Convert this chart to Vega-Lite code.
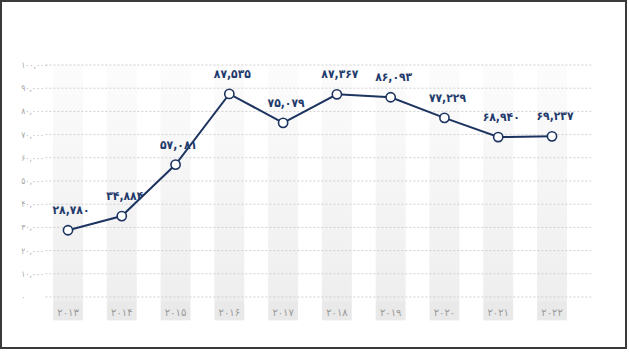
{
  "$schema": "https://vega.github.io/schema/vega-lite/v6.json",
  "width": 625,
  "height": 347,
  "autosize": {"type": "none"},
  "padding": {"left": 1, "top": 1, "right": 3, "bottom": 9},
  "background": "#ffffff",
  "config": {
    "view": {"stroke": "#3a3a3a", "strokeWidth": 2},
    "font": "DejaVu Sans"
  },
  "datasets": {
    "main": [
      {"year": 2013, "yearLabel": "۲۰۱۳", "value": 28780, "label": "۲۸,۷۸۰"},
      {"year": 2014, "yearLabel": "۲۰۱۴", "value": 34884, "label": "۳۴,۸۸۴"},
      {"year": 2015, "yearLabel": "۲۰۱۵", "value": 57081, "label": "۵۷,۰۸۱"},
      {"year": 2016, "yearLabel": "۲۰۱۶", "value": 87535, "label": "۸۷,۵۳۵"},
      {"year": 2017, "yearLabel": "۲۰۱۷", "value": 75079, "label": "۷۵,۰۷۹"},
      {"year": 2018, "yearLabel": "۲۰۱۸", "value": 87367, "label": "۸۷,۳۶۷"},
      {"year": 2019, "yearLabel": "۲۰۱۹", "value": 86093, "label": "۸۶,۰۹۳"},
      {"year": 2020, "yearLabel": "۲۰۲۰", "value": 77229, "label": "۷۷,۲۲۹"},
      {"year": 2021, "yearLabel": "۲۰۲۱", "value": 68940, "label": "۶۸,۹۴۰"},
      {"year": 2022, "yearLabel": "۲۰۲۲", "value": 69237, "label": "۶۹,۲۳۷"}
    ],
    "grid": [
      {"v": 0, "label": "۰"},
      {"v": 10000, "label": "۱۰,۰۰۰"},
      {"v": 20000, "label": "۲۰,۰۰۰"},
      {"v": 30000, "label": "۳۰,۰۰۰"},
      {"v": 40000, "label": "۴۰,۰۰۰"},
      {"v": 50000, "label": "۵۰,۰۰۰"},
      {"v": 60000, "label": "۶۰,۰۰۰"},
      {"v": 70000, "label": "۷۰,۰۰۰"},
      {"v": 80000, "label": "۸۰,۰۰۰"},
      {"v": 90000, "label": "۹۰,۰۰۰"},
      {"v": 100000, "label": "۱۰۰,۰۰۰"}
    ]
  },
  "layer": [
    {
      "data": {"name": "main"},
      "mark": {
        "type": "bar",
        "width": 30,
        "fill": {
          "gradient": "linear",
          "x1": 0, "y1": 0, "x2": 0, "y2": 1,
          "stops": [
            {"offset": 0, "color": "#fcfcfc"},
            {"offset": 1, "color": "#ededed"}
          ]
        }
      },
      "encoding": {
        "x": {"field": "year", "type": "quantitative", "scale": {"domain": [2013, 2022], "range": [62, 556], "nice": false, "zero": false}, "axis": null},
        "y": {"datum": 100000, "type": "quantitative",
          "scale": {"domain": [0, 100000], "range": [296, 64], "nice": false, "zero": false},
          "axis": null
        },
        "y2": {"datum": -10000}
      }
    },
    {
      "data": {"name": "main"},
      "mark": {"type": "bar", "width": 29, "fill": "#e9e9e9"},
      "encoding": {
        "x": {"field": "year", "type": "quantitative", "axis": null},
        "y": {"datum": -1800, "type": "quantitative", "axis": null},
        "y2": {"datum": -10000}
      }
    },
    {
      "data": {"name": "grid"},
      "mark": {"type": "rule", "stroke": "#cfcfcf", "strokeWidth": 1, "strokeDash": [2, 2]},
      "encoding": {
        "y": {"field": "v", "type": "quantitative", "axis": null},
        "x": {"datum": 2012.58, "type": "quantitative", "axis": null},
        "x2": {"datum": 2022.73}
      }
    },
    {
      "data": {"name": "grid"},
      "mark": {"type": "text", "fontSize": 8.5, "color": "#a8a8a8", "baseline": "middle", "align": "left", "font": "DejaVu Sans Condensed"},
      "encoding": {
        "y": {"field": "v", "type": "quantitative", "axis": null},
        "x": {"datum": 2012.13, "type": "quantitative", "axis": null},
        "text": {"field": "label"}
      }
    },
    {
      "data": {"name": "main"},
      "mark": {"type": "text", "fontSize": 10, "color": "#9a9a9a", "baseline": "middle", "align": "center"},
      "encoding": {
        "x": {"field": "year", "type": "quantitative", "axis": null},
        "y": {"datum": -6800, "type": "quantitative", "axis": null},
        "text": {"field": "yearLabel"}
      }
    },
    {
      "data": {"name": "main"},
      "mark": {"type": "line", "stroke": "#1d3461", "strokeWidth": 2},
      "encoding": {
        "x": {"field": "year", "type": "quantitative", "axis": null},
        "y": {"field": "value", "type": "quantitative", "axis": null}
      }
    },
    {
      "data": {"name": "main"},
      "mark": {"type": "point", "shape": "circle", "filled": true, "fill": "#ffffff", "stroke": "#1d3461", "strokeWidth": 1.6, "size": 85, "opacity": 1},
      "encoding": {
        "x": {"field": "year", "type": "quantitative", "axis": null},
        "y": {"field": "value", "type": "quantitative", "axis": null}
      }
    },
    {
      "data": {"name": "main"},
      "mark": {"type": "text", "font": "DejaVu Sans Condensed", "fontSize": 12, "fontWeight": "bold", "color": "#1f3a6b", "baseline": "middle", "align": "center", "dy": -20, "dx": 3},
      "encoding": {
        "x": {"field": "year", "type": "quantitative", "axis": null},
        "y": {"field": "value", "type": "quantitative", "axis": null},
        "text": {"field": "label"}
      }
    }
  ]
}
